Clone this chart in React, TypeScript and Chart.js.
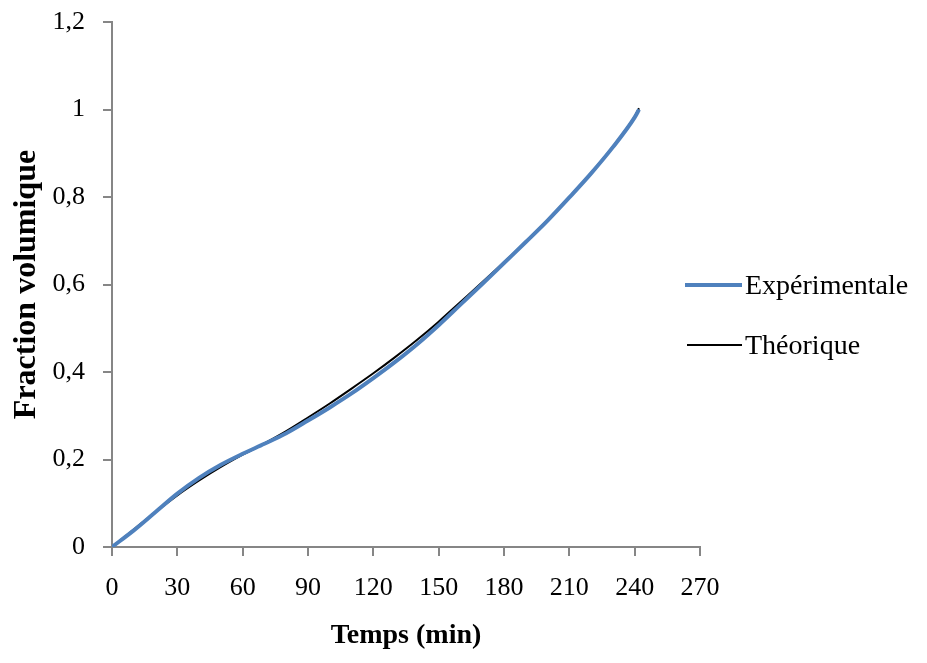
import React, { useEffect, useRef } from "react";
import { Chart, registerables } from "chart.js";

Chart.register(...registerables);

const times = [0, 10, 20, 30, 40, 50, 60, 70, 80, 90, 100, 110, 120, 130, 140, 150, 160, 170, 180, 190, 200, 210, 220, 230, 240, 242];
const experimental = [0, 0.038, 0.08, 0.122, 0.158, 0.188, 0.213, 0.236, 0.26, 0.289, 0.319, 0.351, 0.386, 0.423, 0.463, 0.507, 0.554, 0.601, 0.649, 0.697, 0.746, 0.799, 0.854, 0.914, 0.982, 1.0];
const theoretical = [0, 0.04, 0.08, 0.118, 0.152, 0.183, 0.211, 0.237, 0.265, 0.296, 0.328, 0.362, 0.397, 0.434, 0.473, 0.515, 0.56, 0.605, 0.651, 0.698, 0.747, 0.8, 0.855, 0.915, 0.984, 1.003];
const seriesNames = ["Expérimentale", "Théorique"];
const xTitle = "Temps (min)";
const yTitle = "Fraction volumique";

const FONT = "'Liberation Serif', 'Times New Roman', serif";

export default function App() {
  const ref = useRef<HTMLCanvasElement | null>(null);

  useEffect(() => {
    if (!ref.current) return;
    const chart = new Chart(ref.current, {
      type: "line",
      data: {
        datasets: [
          {
            label: seriesNames[0],
            data: times.map((t, i) => ({ x: t, y: experimental[i] })),
            borderColor: "#4f81bd",
            borderWidth: 4,
            pointRadius: 0,
            cubicInterpolationMode: "monotone",
            fill: false,
          },
          {
            label: seriesNames[1],
            data: times.map((t, i) => ({ x: t, y: theoretical[i] })),
            borderColor: "#000000",
            borderWidth: 2,
            pointRadius: 0,
            cubicInterpolationMode: "monotone",
            fill: false,
          },
        ],
      },
      options: {
        animation: false,
        responsive: true,
        maintainAspectRatio: false,
        layout: { padding: { left: 0, top: 14, right: 219, bottom: 0 } },
        plugins: {
          legend: { display: false },
          tooltip: { enabled: false },
        },
        scales: {
          x: {
            type: "linear",
            min: 0,
            max: 270,
            border: { color: "#868686", width: 2 },
            grid: { drawOnChartArea: false, drawTicks: true, tickLength: 9, color: "#868686", lineWidth: 2 },
            ticks: {
              stepSize: 30,
              color: "#000",
              padding: 17,
              maxRotation: 0,
              font: { family: FONT, size: 26 },
            },
            title: {
              display: true,
              text: xTitle,
              color: "#000",
              font: { family: FONT, size: 28, weight: "bold" },
              padding: { top: 0, bottom: 2 },
            },
            afterFit: (scale: any) => {
              scale.height = 108;
              scale.paddingLeft = 0;
              scale.paddingRight = 0;
            },
          },
          y: {
            type: "linear",
            min: 0,
            max: 1.2,
            border: { color: "#868686", width: 2 },
            grid: { drawOnChartArea: false, drawTicks: true, tickLength: 9, color: "#868686", lineWidth: 2 },
            ticks: {
              stepSize: 0.2,
              color: "#000",
              padding: 18,
              font: { family: FONT, size: 26 },
              callback: (v: any) => String(Number(Number(v).toFixed(1))).replace(".", ","),
            },
            title: {
              display: true,
              text: yTitle,
              color: "#000",
              font: { family: FONT, size: 32, weight: "bold" },
              padding: { top: 0, bottom: 0 },
            },
            afterFit: (scale: any) => {
              scale.width = 104;
              scale.paddingTop = 0;
              scale.paddingBottom = 0;
            },
          },
        },
      },
    });
    return () => chart.destroy();
  }, []);

  const textStyle: React.CSSProperties = {
    position: "absolute",
    fontFamily: FONT,
    fontSize: 28,
    lineHeight: "32px",
    color: "#000",
    whiteSpace: "nowrap",
  };

  return (
    <div style={{ position: "relative", width: 911, height: 647 }}>
      <canvas ref={ref} />
      <div style={{ position: "absolute", left: 677, top: 275, width: 57, height: 4, background: "#4f81bd" }} />
      <div style={{ ...textStyle, left: 737, top: 261 }}>{seriesNames[0]}</div>
      <div style={{ position: "absolute", left: 679, top: 336, width: 55, height: 2, background: "#000" }} />
      <div style={{ ...textStyle, left: 737, top: 321 }}>{seriesNames[1]}</div>
    </div>
  );
}
